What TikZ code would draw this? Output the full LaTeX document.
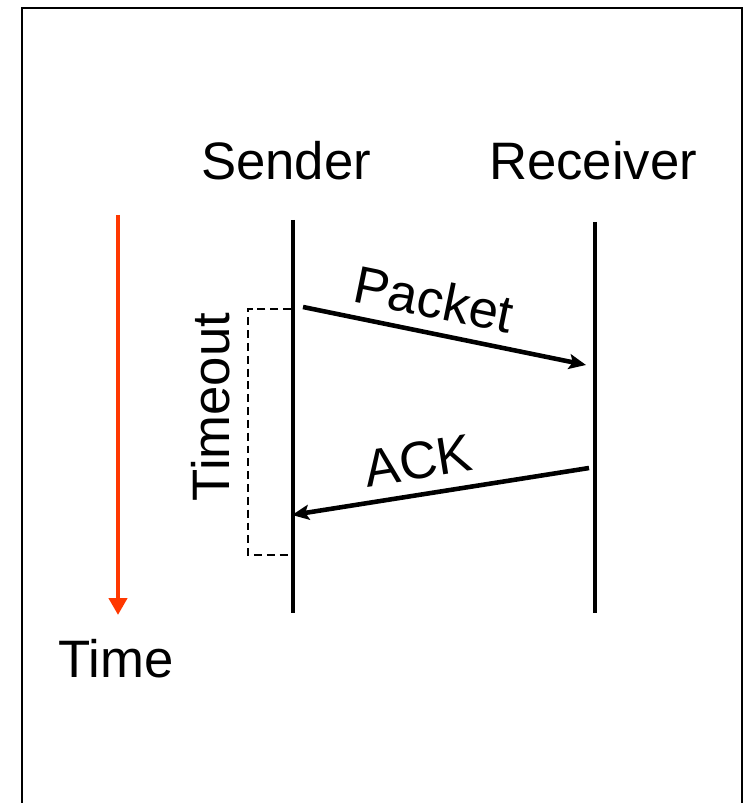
\documentclass[tikz,border=0pt]{standalone}
\usepackage{fontspec}
\setmainfont{Liberation Sans}
\usetikzlibrary{arrows.meta}
\definecolor{timered}{RGB}{255,56,0}

\begin{document}
\begin{tikzpicture}[x=0.02cm, y=-0.02cm,
    lbl/.style={font=\fontsize{30}{36}\selectfont, inner sep=0pt},
    lifeline/.style={line width=2.8pt},
    msg/.style={line width=2.6pt, -{Stealth[length=0.34cm, width=0.3cm, inset=0.07cm]}}]
  \useasboundingbox (0,0) rectangle (746,803);
  \draw[line width=1.2pt] (22,803) -- (22,8) -- (742,8) -- (742,803);
  % lifelines
  \foreach \n/\x/\t in {snd/293/220, rcv/595/222} {
    \coordinate (\n top) at (\x,\t); \coordinate (\n bot) at (\x,613);
    \draw[lifeline] (\n top) -- (\n bot);
  }
  \node[lbl, anchor=base] (sender) at (286,180) {Sender};
  \node[lbl, anchor=base] (receiver) at (593,180) {Receiver};
  % time axis
  \coordinate (ttop) at (118,215); \coordinate (tbot) at (118,615);
  \draw[timered, line width=2.6pt, -{Triangle[length=0.34cm, width=0.36cm]}] (ttop) -- (tbot);
  \node[lbl, anchor=base] (time) at (116,677) {Time};
  % messages
  \coordinate (pkt0) at (303,307); \coordinate (pkt1) at (586,365);
  \coordinate (ack0) at (589,468); \coordinate (ack1) at (292,515);
  \draw[msg] (pkt0) -- (pkt1);
  \draw[msg] (ack0) -- (ack1);
  \node[lbl, rotate=-11.6] (packet) at (434,299) {Packet};
  \node[lbl, rotate=9] (ack) at (418,461) {ACK};
  % timeout bracket
  \coordinate (to0) at (291,309); \coordinate (to1) at (291,555);
  \draw[line width=1.3pt, dash pattern=on 4.5pt off 2.8pt] (to0) -- (248,309) -- (248,555) -- (to1);
  \node[lbl, rotate=90] (timeout) at (211,407) {Timeout};
\end{tikzpicture}
\end{document}
